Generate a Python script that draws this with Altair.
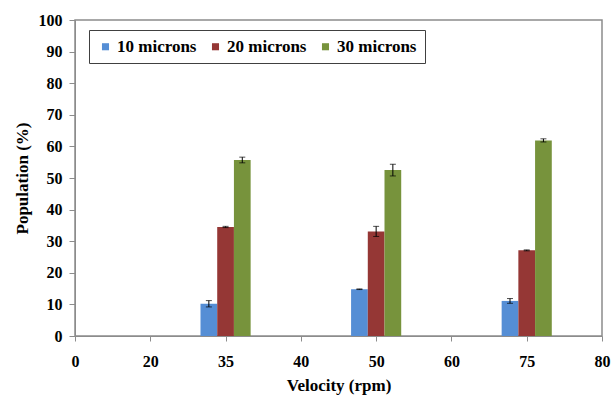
import json
import altair as alt
import pandas as pd

categories = ["0", "20", "35", "40", "50", "60", "75", "80"]
velocities = ["35", "50", "75"]
series = ["10 microns", "20 microns", "30 microns"]
pop_10 = [10.2, 14.8, 11.1]
pop_20 = [34.5, 33.1, 27.1]
pop_30 = [55.7, 52.5, 61.9]
err_10 = [1.0, 0.1, 0.75]
err_20 = [0.2, 1.6, 0.15]
err_30 = [0.9, 1.85, 0.5]
colors = ["#558ED5", "#953735", "#77933C"]
y_ticks = list(range(0, 101, 10))

rows = []
for k, (name, vals, errs) in enumerate(zip(series, [pop_10, pop_20, pop_30], [err_10, err_20, err_30])):
    for v, val, e in zip(velocities, vals, errs):
        rows.append({"velocity": v, "pos": categories.index(v), "series": name,
                     "k": k, "value": val, "err": e})
df = pd.DataFrame(rows)

BW = 0.222
FONT = "Times New Roman"
GRAY = "#8c8c8c"

base = alt.Chart(df).transform_calculate(
    xc=f"datum.pos + (datum.k - 1) * {BW}",
    x0=f"datum.pos + (datum.k - 1) * {BW} - {BW / 2}",
    x1=f"datum.pos + (datum.k - 1) * {BW} + {BW / 2}",
    lo="datum.value - datum.err",
    hi="datum.value + datum.err",
)

xscale = alt.Scale(domain=[0, len(categories) - 1], nice=False, zero=False)
yscale = alt.Scale(domain=[0, 100], nice=False)

xaxis = alt.Axis(
    values=list(range(len(categories))),
    labelExpr=f"{json.dumps(categories)}[datum.value]",
    title="Velocity (rpm)", grid=False, labelFlush=False,
    tickSize=5, labelPadding=12, titlePadding=8,
)
yaxis = alt.Axis(values=y_ticks, title="Population (%)", grid=False,
                 tickSize=6, labelPadding=7, titlePadding=7, labelOverlap=False)

bars = base.mark_bar().encode(
    x=alt.X("x0:Q", scale=xscale, axis=xaxis),
    x2="x1:Q",
    y=alt.Y("value:Q", scale=yscale, axis=yaxis),
    y2=alt.datum(0),
    color=alt.Color("series:N", scale=alt.Scale(domain=series, range=colors),
                    legend=alt.Legend(title=None, orient="none", legendX=14, legendY=10,
                                      direction="horizontal", symbolType="square",
                                      symbolSize=50, symbolStrokeWidth=0,
                                      strokeColor="#404040", fillColor="white",
                                      padding=8, columnPadding=10, labelOffset=3)),
)

rules = base.mark_rule(color="black", strokeWidth=1).encode(
    x=alt.X("xc:Q", scale=xscale, axis=xaxis),
    y=alt.Y("lo:Q", scale=yscale, axis=yaxis),
    y2="hi:Q")

caps = base.transform_fold(["lo", "hi"], as_=["end", "yv"]).mark_tick(
    orient="horizontal", size=6, thickness=1, color="black").encode(
    x=alt.X("xc:Q", scale=xscale, axis=xaxis),
    y=alt.Y("yv:Q", scale=yscale, axis=yaxis))

chart = alt.layer(bars, rules, caps).properties(
    width=527, height=316,
    autosize=alt.AutoSizeParams(type="none"),
    padding={"left": 75, "top": 20, "right": 10, "bottom": 62},
).configure_view(stroke=GRAY, strokeWidth=1.5).configure_axis(
    domainColor=GRAY, tickColor=GRAY, labelFont=FONT, titleFont=FONT,
    labelFontWeight="bold", titleFontWeight="bold", labelFontSize=16,
    titleFontSize=17, labelColor="black", titleColor="black",
).configure_legend(labelFont=FONT, labelFontWeight="bold", labelFontSize=17,
                   labelColor="black")

chart.save("out.html", embed_options={"renderer": "svg", "actions": False})
